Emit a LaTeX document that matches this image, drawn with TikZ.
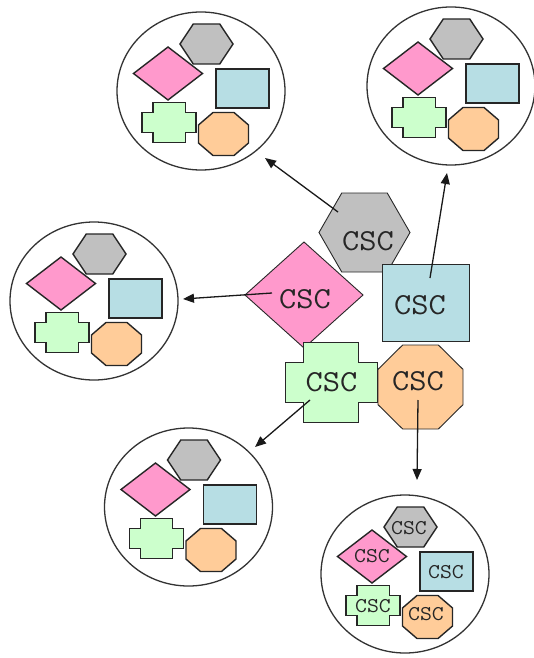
\documentclass[tikz,border=0pt]{standalone}
\usetikzlibrary{shapes.geometric,arrows.meta}
\definecolor{shgray}{RGB}{192,192,192}
\definecolor{shpink}{RGB}{255,153,204}
\definecolor{shblue}{RGB}{183,222,228}
\definecolor{shgreen}{RGB}{204,255,204}
\definecolor{shorange}{RGB}{255,204,153}
\definecolor{edge}{RGB}{40,40,40}
\newcommand\shHex[5]{\filldraw[#5] (#1-#3/2,#2) -- (#1-#3/4,#2-#4/2) -- (#1+#3/4,#2-#4/2) -- (#1+#3/2,#2) -- (#1+#3/4,#2+#4/2) -- (#1-#3/4,#2+#4/2) -- cycle;}
\newcommand\shDia[5]{\filldraw[#5] (#1-#3/2,#2) -- (#1,#2-#4/2) -- (#1+#3/2,#2) -- (#1,#2+#4/2) -- cycle;}
\newcommand\shRec[5]{\filldraw[#5] (#1-#3/2,#2-#4/2) rectangle (#1+#3/2,#2+#4/2);}
\newcommand\shOct[5]{\filldraw[#5] (#1-#3/2,#2-0.21*#4) -- (#1-0.21*#3,#2-#4/2) -- (#1+0.21*#3,#2-#4/2) -- (#1+#3/2,#2-0.21*#4) -- (#1+#3/2,#2+0.21*#4) -- (#1+0.21*#3,#2+#4/2) -- (#1-0.21*#3,#2+#4/2) -- (#1-#3/2,#2+0.21*#4) -- cycle;}
\newcommand\shCro[5]{\filldraw[#5] (#1-0.3*#3,#2-#4/2) -- (#1+0.3*#3,#2-#4/2) -- (#1+0.3*#3,#2-0.25*#4) -- (#1+#3/2,#2-0.25*#4) -- (#1+#3/2,#2+0.25*#4) -- (#1+0.3*#3,#2+0.25*#4) -- (#1+0.3*#3,#2+#4/2) -- (#1-0.3*#3,#2+#4/2) -- (#1-0.3*#3,#2+0.25*#4) -- (#1-#3/2,#2+0.25*#4) -- (#1-#3/2,#2-0.25*#4) -- (#1-0.3*#3,#2-0.25*#4) -- cycle;}
\newcommand\cluster[2]{%
  \shHex{#1+5.5}{#2-47}{53}{40}{smgray}
  \shDia{#1-33}{#2-17.5}{69}{53}{smpink}
  \shRec{#1+41.5}{#2-2.5}{53}{39}{smblue}
  \shCro{#1-32}{#2+31.5}{54}{40}{smgreen}
  \shOct{#1+22.5}{#2+43}{50}{43}{smorange}}
\newcommand\cscword{\scalebox{1.1}[1]{CSC}}
\tikzset{
  bigline/.style={draw=edge, line width=0.9pt, line join=miter},
  smline/.style={draw=black!85, line width=1.4pt, line join=miter},
  biggray/.style={bigline, fill=shgray}, bigpink/.style={bigline, fill=shpink},
  bigblue/.style={bigline, fill=shblue}, biggreen/.style={bigline, fill=shgreen},
  bigorange/.style={bigline, fill=shorange},
  smgray/.style={smline, fill=shgray}, smpink/.style={smline, fill=shpink},
  smblue/.style={smline, fill=shblue}, smgreen/.style={smline, fill=shgreen},
  smorange/.style={smline, fill=shorange},
  circ/.style={ellipse, draw=black!80, line width=1.3pt, minimum width=168pt, minimum height=158pt, inner sep=0pt},
  csc/.style={font=\fontsize{30.5}{30}\selectfont\ttfamily, inner sep=0pt, text=black!85},
  csct/.style={font=\fontsize{21}{21}\selectfont\ttfamily, inner sep=0pt, text=black!85},
  arr/.style={-{Triangle[length=11pt,width=9pt]}, line width=1.3pt, draw=black!90}
}
\begin{document}
\begin{tikzpicture}[x=1pt,y=-1pt]
\useasboundingbox[fill=white] (0,0) rectangle (533,658);
% circles
\node[circ] (c1) at (201,91) {};
\node[circ] (c2) at (451,86) {};
\node[circ] (c3) at (94,301) {};
\node[circ] (c4) at (188.5,507) {};
\node[circ] (c5) at (405,574) {};
\cluster{201}{91}
\cluster{451}{86}
\cluster{94}{301}
\cluster{188.5}{507}
\cluster{405}{574}
% small labels in bottom-right circle
\node[csct] (l1) at (409,528) {\cscword};
\node[csct] (l2) at (372,556) {\cscword};
\node[csct] (l3) at (446,572) {\cscword};
\node[csct] (l4) at (373,606) {\cscword};
\node[csct] (l5) at (426,614) {\cscword};
% central shapes
\shHex{364.5}{232.5}{91}{79}{biggray}
\shRec{425.5}{302.5}{87}{77}{bigblue}
\shDia{304}{295}{118}{106}{bigpink}
\shCro{331}{382}{92}{80}{biggreen}
\shOct{420.5}{387}{85}{84}{bigorange}
\node[csc] (thex) at (368,241) {\cscword};
\node[csc] (tdia) at (305,299) {\cscword};
\node[csc] (trec) at (420,305) {\cscword};
\node[csc] (tcro) at (331.5,382) {\cscword};
\node[csc] (toct) at (418,381) {\cscword};
% arrow ends
\coordinate (s1) at (338,212); \coordinate (e1) at (265,158);
\coordinate (s2) at (430,278); \coordinate (e2) at (447,173);
\coordinate (s3) at (272,293); \coordinate (e3) at (183,299);
\coordinate (s4) at (310,400); \coordinate (e4) at (255,447);
\coordinate (s5) at (418,400); \coordinate (e5) at (417,480);
\draw[arr] (s1) -- (e1);
\draw[arr] (s2) -- (e2);
\draw[arr] (s3) -- (e3);
\draw[arr] (s4) -- (e4);
\draw[arr] (s5) -- (e5);
\end{tikzpicture}
\end{document}
